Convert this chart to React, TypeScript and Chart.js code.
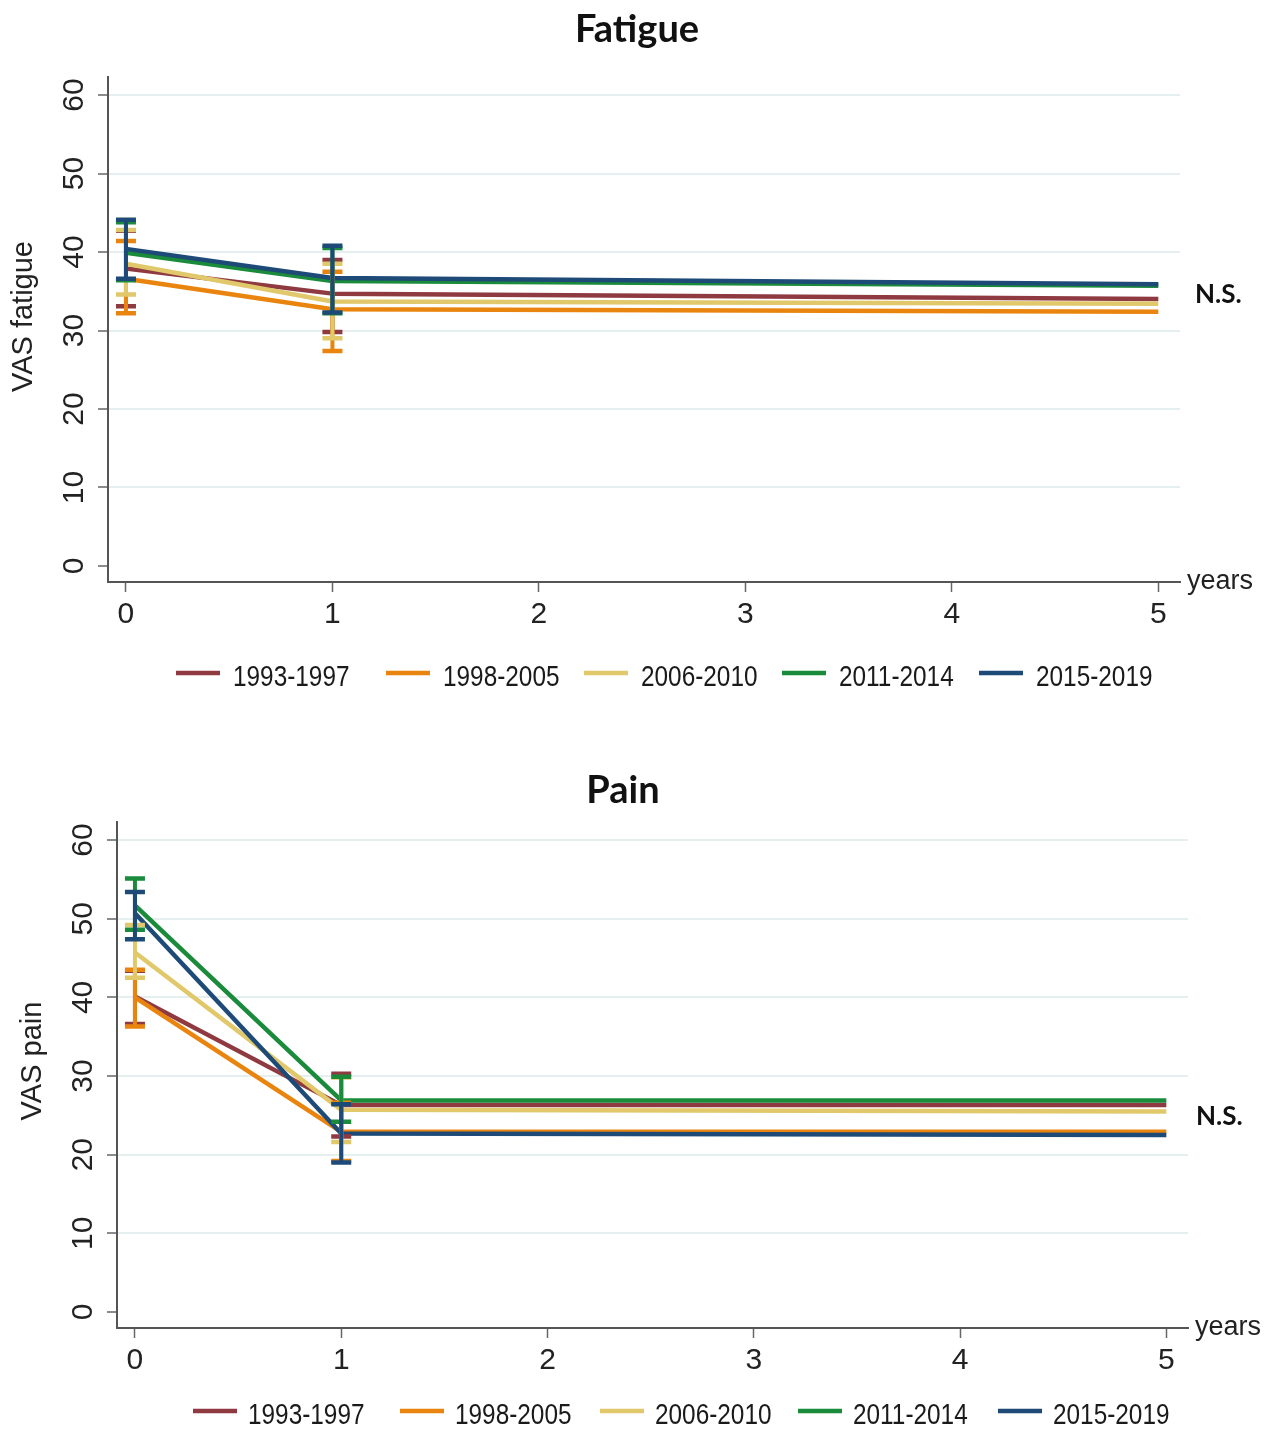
import React, { useEffect, useRef } from 'react';
import { Chart, registerables } from 'chart.js';

Chart.register(...registerables);

// ---------- data ----------
const years = [0, 1, 5];
const ciYears = [0, 1];
const cohorts = ['1993-1997', '1998-2005', '2006-2010', '2011-2014', '2015-2019'];
const cohortColors = ['#8f3a40', '#e9850f', '#e0c86b', '#1a8a3b', '#1d4a77'];
const xTickValues = [0, 1, 2, 3, 4, 5];
const yTickValues = [0, 10, 20, 30, 40, 50, 60];

// Fatigue (VAS) means at years 0, 1, 5
const fatigueMean1993 = [37.9, 34.7, 34.0];
const fatigueMean1998 = [36.6, 32.7, 32.4];
const fatigueMean2006 = [38.5, 33.7, 33.4];
const fatigueMean2011 = [39.9, 36.3, 35.7];
const fatigueMean2015 = [40.4, 36.7, 35.9];
// Fatigue 95% CI at years 0, 1
const fatigueLow1993 = [33.1, 29.8];
const fatigueLow1998 = [32.2, 27.4];
const fatigueLow2006 = [34.6, 29.0];
const fatigueLow2011 = [36.4, 32.2];
const fatigueLow2015 = [36.6, 32.3];
const fatigueHigh1993 = [42.7, 39.0];
const fatigueHigh1998 = [41.4, 37.5];
const fatigueHigh2006 = [42.8, 38.5];
const fatigueHigh2011 = [43.8, 40.5];
const fatigueHigh2015 = [44.1, 40.8];

// Pain (VAS) means at years 0, 1, 5
const painMean1993 = [40.1, 26.3, 26.3];
const painMean1998 = [40.0, 22.9, 22.9];
const painMean2006 = [45.7, 25.7, 25.5];
const painMean2011 = [51.7, 26.9, 26.9];
const painMean2015 = [50.7, 22.7, 22.5];
// Pain 95% CI at years 0, 1
const painLow1993 = [36.6, 22.3];
const painLow1998 = [36.3, 19.2];
const painLow2006 = [42.5, 21.6];
const painLow2011 = [48.6, 24.2];
const painLow2015 = [47.4, 19.0];
const painHigh1993 = [43.4, 30.3];
const painHigh1998 = [43.5, 26.6];
const painHigh2006 = [49.2, 29.8];
const painHigh2011 = [55.1, 29.9];
const painHigh2015 = [53.4, 26.4];

const tickFont = 'Liberation Sans, Arial, sans-serif';
const boldFont = 'Lato, "Open Sans", sans-serif';

type Spec = {
  title: string;
  yTitle: string;
  means: number[][];
  lows: number[][];
  highs: number[][];
  canvasH: number;
  padTop: number;
  padRight: number;
  yAxisW: number;
  xAxisH: number;
  titleX: number;
  titleBase: number;
  yTitleShift: number;
  nsX: number;
  nsBase: number;
  legendStarts: number[];
  legendTextOff: number;
  legendLineY: number;
  legendTextY: number;
};

function makeDecor(spec: Spec) {
  return {
    id: 'decor',
    afterDatasetsDraw(chart: any) {
      const { ctx } = chart;
      const xs = chart.scales.x;
      const ys = chart.scales.y;
      ctx.save();
      ctx.lineCap = 'butt';
      spec.lows.forEach((lo, i) => {
        const hi = spec.highs[i];
        ctx.strokeStyle = cohortColors[i];
        ciYears.forEach((yr, j) => {
          const px = xs.getPixelForValue(yr);
          const pLo = ys.getPixelForValue(lo[j]);
          const pHi = ys.getPixelForValue(hi[j]);
          ctx.lineWidth = 4;
          ctx.beginPath();
          ctx.moveTo(px, pLo);
          ctx.lineTo(px, pHi);
          ctx.stroke();
          ctx.lineWidth = 4.5;
          ctx.beginPath();
          ctx.moveTo(px - 10, pLo);
          ctx.lineTo(px + 10, pLo);
          ctx.moveTo(px - 10, pHi);
          ctx.lineTo(px + 10, pHi);
          ctx.stroke();
        });
      });
      ctx.restore();
    },
    afterDraw(chart: any) {
      const { ctx, chartArea } = chart;
      const ys = chart.scales.y;
      ctx.save();
      // title
      ctx.fillStyle = '#111';
      ctx.font = `bold 38px ${boldFont}`;
      ctx.textAlign = 'center';
      ctx.textBaseline = 'alphabetic';
      ctx.fillText(spec.title, spec.titleX, spec.titleBase);

      // y tick labels (rotated)
      ctx.fillStyle = '#222';
      ctx.font = `30px ${tickFont}`;
      yTickValues.forEach((v) => {
        const py = ys.getPixelForValue(v);
        ctx.save();
        ctx.translate(chartArea.left - 33, py);
        ctx.rotate(-Math.PI / 2);
        ctx.textAlign = 'center';
        ctx.textBaseline = 'middle';
        ctx.fillText(String(v), 0, 0);
        ctx.restore();
      });

      // y title
      ctx.save();
      ctx.font = `29px ${tickFont}`;
      ctx.translate(chartArea.left - 84, (chartArea.top + chartArea.bottom) / 2 + spec.yTitleShift);
      ctx.rotate(-Math.PI / 2);
      ctx.textAlign = 'center';
      ctx.textBaseline = 'middle';
      ctx.fillText(spec.yTitle, 0, 0);
      ctx.restore();

      // "years"
      ctx.font = `27px ${tickFont}`;
      ctx.textAlign = 'left';
      ctx.textBaseline = 'alphabetic';
      ctx.fillText('years', chartArea.right + 7, chartArea.bottom + 7);

      // N.S.
      ctx.fillStyle = '#111';
      ctx.font = `bold 26px ${boldFont}`;
      ctx.fillText('N.S.', spec.nsX, spec.nsBase);

      // legend
      chart.data.datasets.forEach((ds: any, i: number) => {
        const sx = spec.legendStarts[i];
        ctx.strokeStyle = ds.borderColor;
        ctx.lineWidth = 4.5;
        ctx.beginPath();
        ctx.moveTo(sx, spec.legendLineY);
        ctx.lineTo(sx + 44, spec.legendLineY);
        ctx.stroke();
        ctx.save();
        ctx.fillStyle = '#1a1a1a';
        ctx.font = `29px ${tickFont}`;
        ctx.textBaseline = 'middle';
        ctx.textAlign = 'left';
        ctx.translate(sx + spec.legendTextOff, spec.legendTextY);
        ctx.scale(0.84, 1);
        ctx.fillText(ds.label, 0, 0);
        ctx.restore();
      });
      ctx.restore();
    },
  };
}

function buildChart(canvas: HTMLCanvasElement, spec: Spec) {
  return new Chart(canvas, {
    type: 'line',
    data: {
      datasets: cohorts.map((c, i) => ({
        label: c,
        data: years.map((yr, j) => ({ x: yr, y: spec.means[i][j] })),
        borderColor: cohortColors[i],
        backgroundColor: cohortColors[i],
        borderWidth: 4.5,
        borderJoinStyle: 'round',
        pointRadius: 0,
        pointHoverRadius: 0,
        tension: 0,
        fill: false,
        order: cohorts.length - i,
      })),
    },
    options: {
      animation: false,
      responsive: false,
      maintainAspectRatio: false,
      events: [],
      layout: { padding: { left: 0, right: spec.padRight, top: spec.padTop, bottom: 0 } },
      plugins: {
        legend: { display: false },
        title: { display: false },
        tooltip: { enabled: false },
      },
      scales: {
        x: {
          type: 'linear',
          min: -0.087,
          max: 5.105,
          afterBuildTicks: (s: any) => {
            s.ticks = xTickValues.map((v) => ({ value: v }));
          },
          afterFit: (s: any) => {
            s.height = spec.xAxisH;
          },
          grid: {
            drawOnChartArea: false,
            drawTicks: true,
            tickLength: 10,
            tickColor: '#666',
            tickWidth: 1.5,
          },
          border: { color: '#555', width: 2 },
          ticks: {
            font: { family: tickFont, size: 30 },
            color: '#222',
            padding: 5,
            maxRotation: 0,
            autoSkip: false,
          },
        },
        y: {
          type: 'linear',
          min: -2.04,
          max: 62.3,
          afterBuildTicks: (s: any) => {
            s.ticks = yTickValues.map((v) => ({ value: v }));
          },
          afterFit: (s: any) => {
            s.width = spec.yAxisW;
          },
          grid: {
            color: (c: any) => (c.tick && c.tick.value === 0 ? 'rgba(0,0,0,0)' : '#e6eff0'),
            lineWidth: 2,
            drawTicks: true,
            tickLength: 10,
            tickColor: '#666',
            tickWidth: 1.5,
          },
          border: { color: '#555', width: 2 },
          ticks: { display: false },
        },
      },
    } as any,
    plugins: [makeDecor(spec)],
  });
}

const fatigueSpec: Spec = {
  title: 'Fatigue',
  yTitle: 'VAS fatigue',
  means: [fatigueMean1993, fatigueMean1998, fatigueMean2006, fatigueMean2011, fatigueMean2015],
  lows: [fatigueLow1993, fatigueLow1998, fatigueLow2006, fatigueLow2011, fatigueLow2015],
  highs: [fatigueHigh1993, fatigueHigh1998, fatigueHigh2006, fatigueHigh2011, fatigueHigh2015],
  canvasH: 715,
  padTop: 77,
  padRight: 84,
  yAxisW: 108,
  xAxisH: 133,
  titleX: 637,
  titleBase: 42,
  yTitleShift: -13,
  nsX: 1195,
  nsBase: 303,
  legendStarts: [176, 386, 584, 782, 979],
  legendTextOff: 57,
  legendLineY: 673,
  legendTextY: 678,
};

const painSpec: Spec = {
  title: 'Pain',
  yTitle: 'VAS pain',
  means: [painMean1993, painMean1998, painMean2006, painMean2011, painMean2015],
  lows: [painLow1993, painLow1998, painLow2006, painLow2011, painLow2015],
  highs: [painHigh1993, painHigh1998, painHigh2006, painHigh2011, painHigh2015],
  canvasH: 715,
  padTop: 107,
  padRight: 76,
  yAxisW: 117,
  xAxisH: 102,
  titleX: 623,
  titleBase: 88,
  yTitleShift: -14,
  nsX: 1196,
  nsBase: 410,
  legendStarts: [193, 400, 600, 798, 998],
  legendTextOff: 55,
  legendLineY: 696,
  legendTextY: 701,
};

function ChartCanvas({ spec, top }: { spec: Spec; top: number }) {
  const ref = useRef<HTMLCanvasElement | null>(null);
  useEffect(() => {
    if (!ref.current) return;
    const chart = buildChart(ref.current, spec);
    return () => chart.destroy();
  }, [spec]);
  return (
    <canvas
      ref={ref}
      width={1264}
      height={spec.canvasH}
      style={{ position: 'absolute', left: 0, top, width: 1264, height: spec.canvasH, display: 'block' }}
    />
  );
}

export default function App() {
  return (
    <div style={{ position: 'absolute', left: 0, top: 0, width: 1264, height: 1430, background: '#fff' }}>
      <ChartCanvas spec={fatigueSpec} top={0} />
      <ChartCanvas spec={painSpec} top={715} />
    </div>
  );
}
